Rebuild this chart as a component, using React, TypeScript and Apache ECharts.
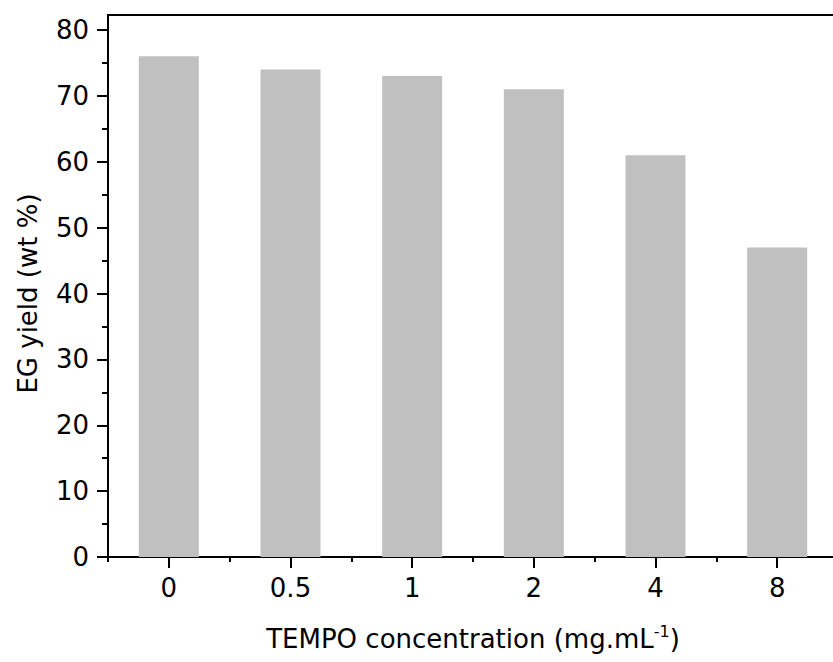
import React, { useEffect, useRef } from "react";
import * as echarts from "echarts";

const categories = ["0", "0.5", "1", "2", "4", "8"];
const egYield = [76, 74, 73, 71, 61, 47];
const yTicks = { min: 0, max: 80, interval: 10 };

const FONT = "DejaVu Sans";
const FS = 26;

export default function App() {
  const ref = useRef<HTMLDivElement>(null);
  useEffect(() => {
    if (!ref.current) return;
    const chart = echarts.init(ref.current, null, { renderer: "svg" });
    const gridBase = { left: 108, right: 2, bottom: 105 };
    chart.setOption({
      animation: false,
      backgroundColor: "#ffffff",
      grid: [
        { ...gridBase, top: 30, show: false },
        { ...gridBase, top: 15, show: true, borderColor: "#000", borderWidth: 2, backgroundColor: "transparent" },
      ],
      xAxis: [
        {
          type: "category",
          gridIndex: 0,
          data: categories,
          position: "bottom",
          boundaryGap: true,
          name: "TEMPO concentration (mg.mL{sup|-1})",
          nameLocation: "middle",
          nameGap: 66,
          nameTextStyle: {
            fontFamily: FONT,
            fontSize: FS,
            color: "#000",
            rich: {
              sup: { fontFamily: FONT, fontSize: 16, color: "#000", padding: [0, 0, 15, 0] },
            },
          },
          axisLine: { show: true, lineStyle: { color: "#000", width: 2 } },
          axisTick: { show: true, alignWithLabel: true, inside: false, length: 11, lineStyle: { color: "#000", width: 2 } },
          axisLabel: { fontFamily: FONT, fontSize: FS, color: "#000", margin: 18 },
          splitLine: { show: false },
        },
        {
          type: "category",
          gridIndex: 0,
          data: categories,
          position: "bottom",
          boundaryGap: true,
          axisLine: { show: true, lineStyle: { color: "#000", width: 2 } },
          axisTick: { show: true, alignWithLabel: false, inside: false, length: 5, lineStyle: { color: "#000", width: 2 } },
          axisLabel: { show: false },
          splitLine: { show: false },
        },
        { type: "value", gridIndex: 1, show: false },
      ],
      yAxis: [
        {
          type: "value",
          gridIndex: 0,
          min: yTicks.min,
          max: yTicks.max,
          interval: yTicks.interval,
          name: "EG yield (wt %)",
          nameLocation: "middle",
          nameGap: 67,
          nameTextStyle: { fontFamily: FONT, fontSize: FS, color: "#000" },
          axisLine: { show: true, lineStyle: { color: "#000", width: 2 } },
          axisTick: { show: true, inside: false, length: 11, lineStyle: { color: "#000", width: 2 } },
          minorTick: { show: true, splitNumber: 2, length: 6, lineStyle: { color: "#000", width: 2 } },
          axisLabel: { fontFamily: FONT, fontSize: FS, color: "#000", margin: 19 },
          splitLine: { show: false },
        },
        { type: "value", gridIndex: 1, show: false },
      ],
      series: [
        {
          type: "bar",
          xAxisIndex: 0,
          yAxisIndex: 0,
          data: egYield,
          barWidth: 60,
          itemStyle: { color: "#c0c0c0" },
        },
      ],
    });
    return () => chart.dispose();
  }, []);
  return (
    <div style={{ position: "absolute", left: 0, top: 0, width: 833, height: 662, overflow: "hidden" }}>
      <div ref={ref} style={{ width: 840, height: 662 }} />
    </div>
  );
}
